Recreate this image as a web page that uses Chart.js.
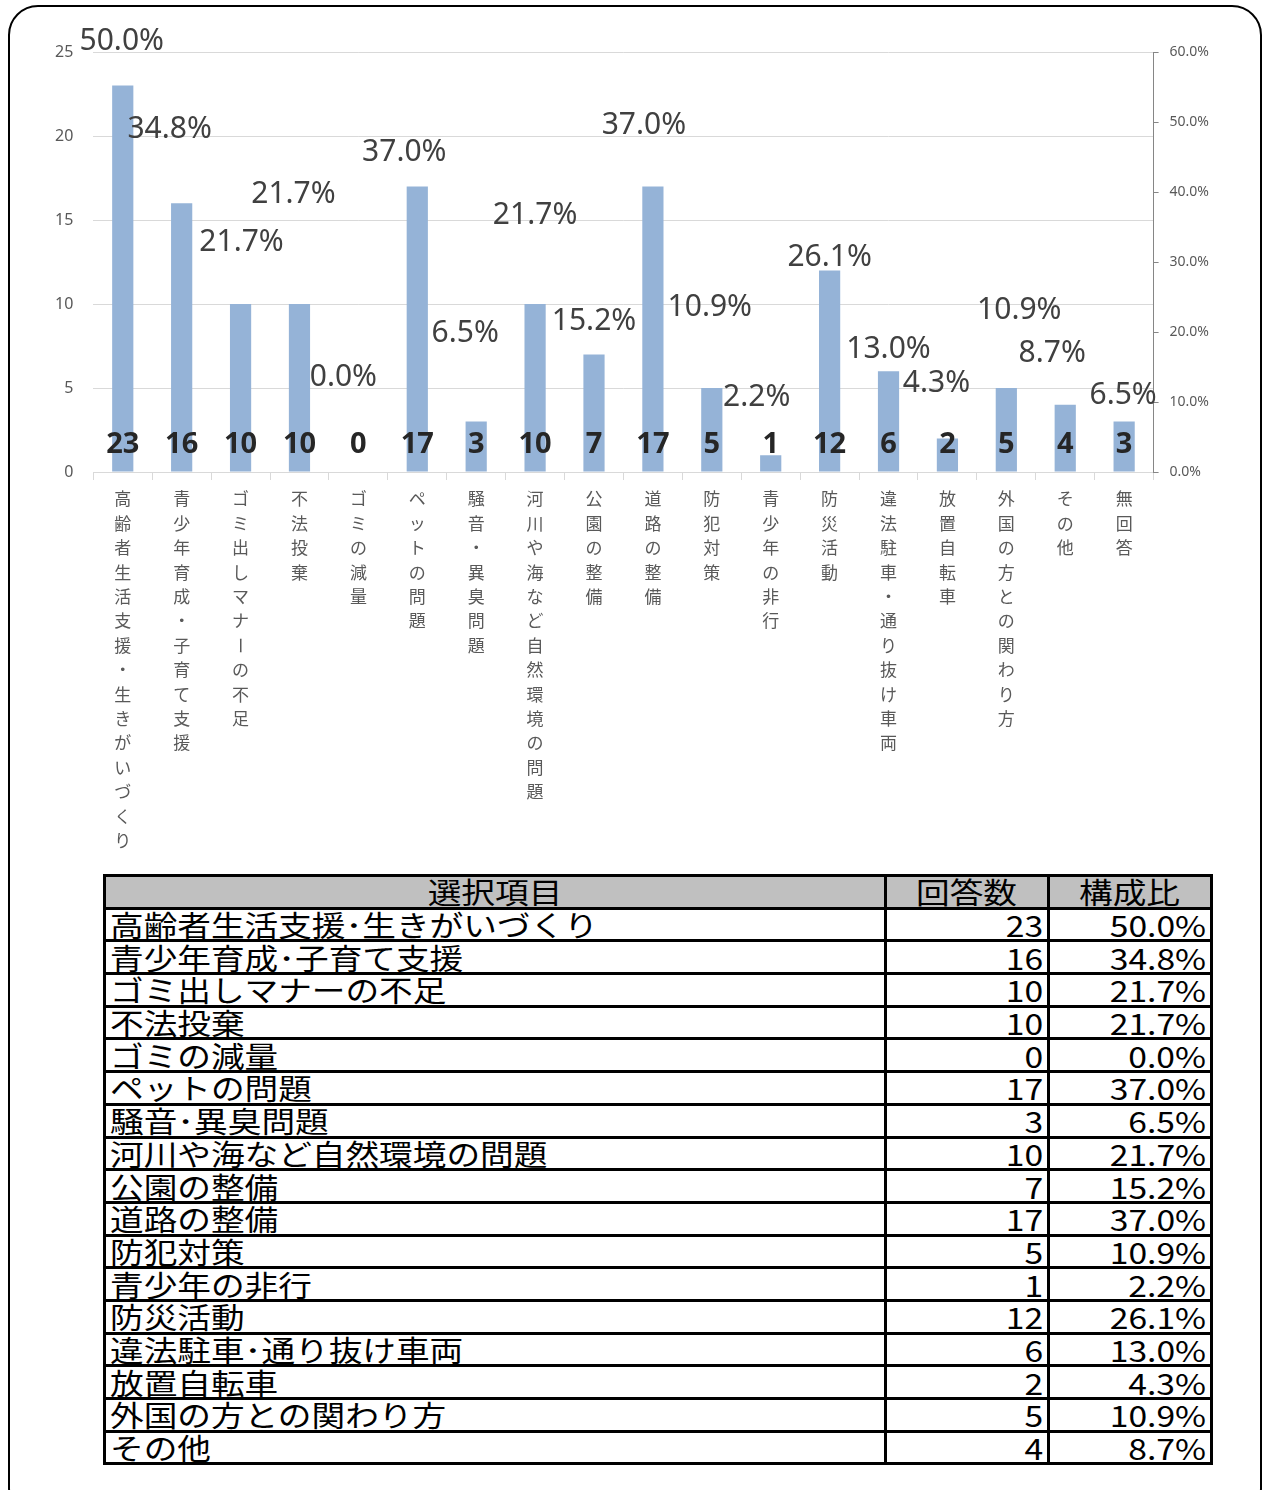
<!DOCTYPE html>
<html>
<head>
<meta charset="utf-8">
<script src="https://cdn.jsdelivr.net/npm/chart.js@4/dist/chart.umd.min.js"></script>
<style>
  body { margin: 0; background: #fff; }
  #frame {
    position: absolute; left: 8px; top: 5px; width: 1250px; height: 1510px;
    border: 2px solid #000; border-radius: 30px;
  }
  #chartbox { position: absolute; left: 0; top: 0; width: 1262px; height: 860px; }
  #answers {
    position: absolute; left: 103px; top: 874px; width: 1110px;
    border-collapse: collapse;
    font-family: "Noto Sans CJK JP", sans-serif; font-size: 29px; line-height: 29px;
    color: #000;
  }
  #answers td, #answers th {
    border: 3px solid #000; height: 29.7px; padding: 0 4px; overflow: hidden; white-space: nowrap;
  }
  #answers th { background: #c0c0c0; font-weight: normal; text-align: center; }
  #answers td.num { text-align: right; }
  #answers span { display: inline-block; transform: scaleX(1.16); transform-origin: left center; }
  #answers th span { transform-origin: center center; }
  #answers td.num span { transform-origin: right center; }
</style>
</head>
<body>
<div id="frame"></div>
<div id="chartbox"><canvas id="issues" width="1262" height="860"></canvas></div>
<table id="answers"></table>
<script>
const categories = [
  '高齢者生活支援・生きがいづくり', '青少年育成・子育て支援', 'ゴミ出しマナーの不足', '不法投棄',
  'ゴミの減量', 'ペットの問題', '騒音・異臭問題', '河川や海など自然環境の問題', '公園の整備',
  '道路の整備', '防犯対策', '青少年の非行', '防災活動', '違法駐車・通り抜け車両', '放置自転車',
  '外国の方との関わり方', 'その他', '無回答'
];
const counts = [23, 16, 10, 10, 0, 17, 3, 10, 7, 17, 5, 1, 12, 6, 2, 5, 4, 3];
const shares = [50.0, 34.8, 21.7, 21.7, 0.0, 37.0, 6.5, 21.7, 15.2, 37.0, 10.9, 2.2, 26.1, 13.0, 4.3, 10.9, 8.7, 6.5];
const tableHeader = ['選択項目', '回答数', '構成比'];
const tableRowsShown = 17;

// where the share labels sit: [x shift in px, height on the count axis]
const shareLabelSpot = [
  [-1, 25.65], [-12, 20.4], [1, 13.65], [-6, 16.5], [-15, 5.65], [-13, 19.05],
  [-11, 8.25], [0, 15.3], [0, 8.95], [-9, 20.6], [-2, 9.8], [-14, 4.45],
  [0, 12.75], [0, 7.3], [-11, 5.3], [13, 9.6], [-13, 7.05], [-1, 4.55]
];

const barBlue = '#95B3D7';
const gridGray = '#D9D9D9';
const textGray = '#595959';

const labelPlugin = {
  id: 'labelPlugin',
  afterDraw(chart) {
    const ctx = chart.ctx;
    const xs = chart.scales.x;
    const ys = chart.scales.y;
    ctx.save();
    ctx.textAlign = 'center';
    ctx.textBaseline = 'middle';

    // share labels
    ctx.font = '30px "Noto Sans"';
    ctx.fillStyle = '#404040';
    shares.forEach((s, i) => {
      const spot = shareLabelSpot[i];
      ctx.fillText(s.toFixed(1) + '%', xs.getPixelForValue(i) + spot[0], ys.getPixelForValue(spot[1]));
    });

    // counts at the foot of each bar
    ctx.font = 'bold 29px "Noto Sans"';
    ctx.fillStyle = '#262626';
    counts.forEach((c, i) => {
      ctx.fillText(String(c), xs.getPixelForValue(i), ys.getPixelForValue(0) - 27);
    });

    // vertical category names
    ctx.font = '17px "Noto Sans CJK JP"';
    ctx.fillStyle = textGray;
    const top = ys.getPixelForValue(0) + 27;
    categories.forEach((name, i) => {
      const x = xs.getPixelForValue(i);
      Array.from(name).forEach((ch, k) => {
        const y = top + k * 24.4;
        if (ch === 'ー') {
          ctx.save();
          ctx.translate(x, y);
          ctx.rotate(Math.PI / 2);
          ctx.fillText(ch, 0, 0);
          ctx.restore();
        } else {
          ctx.fillText(ch, x, y);
        }
      });
    });
    ctx.restore();
  }
};

new Chart(document.getElementById('issues'), {
  type: 'bar',
  data: {
    labels: categories,
    datasets: [
      {
        label: '回答数',
        data: counts,
        backgroundColor: barBlue,
        yAxisID: 'y',
        barPercentage: 0.72,
        categoryPercentage: 0.5,
        order: 2
      },
      {
        type: 'line',
        label: '構成比',
        data: shares.map(s => s / 100),
        yAxisID: 'y1',
        showLine: false,
        pointRadius: 0,
        order: 1
      }
    ]
  },
  options: {
    responsive: false,
    devicePixelRatio: 1,
    animation: false,
    layout: { padding: { left: 35, right: 42, top: 52, bottom: 380 } },
    plugins: { legend: { display: false }, tooltip: { enabled: false } },
    scales: {
      x: {
        grid: { display: true, drawOnChartArea: false, color: gridGray, tickLength: 8, offset: true },
        border: { color: gridGray },
        ticks: { display: false }
      },
      y: {
        position: 'left',
        min: 0, max: 25,
        ticks: { stepSize: 5, color: textGray, font: { family: 'Noto Sans', size: 16 }, padding: 20 },
        grid: { color: gridGray, drawTicks: false },
        border: { display: false }
      },
      y1: {
        position: 'right',
        min: 0, max: 0.6,
        ticks: {
          stepSize: 0.1, color: textGray, font: { family: 'Noto Sans', size: 14 }, padding: 11,
          callback: v => (v * 100).toFixed(1) + '%'
        },
        grid: { drawOnChartArea: false, color: '#868686', tickLength: 5 },
        border: { color: '#868686' }
      }
    }
  },
  plugins: [labelPlugin]
});

// table under the chart
function cellText(cell, text) {
  const span = document.createElement('span');
  span.textContent = text;
  cell.appendChild(span);
}
const table = document.getElementById('answers');
const head = table.insertRow();
tableHeader.forEach(h => {
  const th = document.createElement('th');
  cellText(th, h);
  head.appendChild(th);
});
categories.slice(0, tableRowsShown).forEach((name, i) => {
  const row = table.insertRow();
  cellText(row.insertCell(), name.replace(/・/g, '･'));
  const b = row.insertCell(); cellText(b, String(counts[i])); b.className = 'num';
  const c = row.insertCell(); cellText(c, shares[i].toFixed(1) + '%'); c.className = 'num';
});
head.cells[0].style.width = '770px';
head.cells[1].style.width = '152px';
</script>
</body>
</html>
